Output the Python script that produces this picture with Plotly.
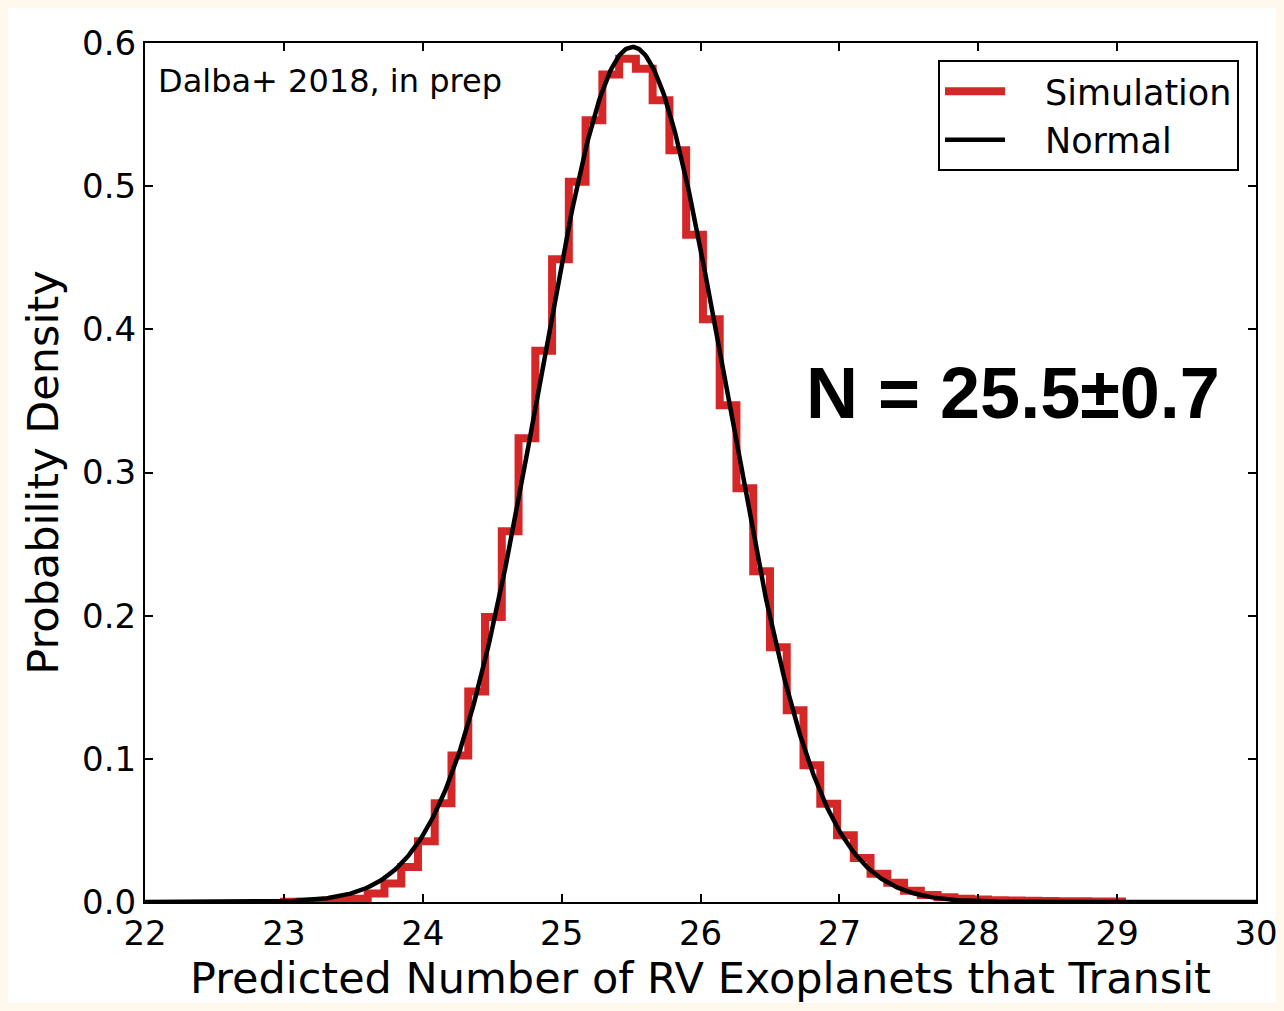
import numpy as np
import plotly.graph_objects as go

# ---- data ----
hist_min = 23.0
hist_max = 29.035
n_bins = 50
densities = [
    0.0002, 0.0004, 0.0007, 0.0012, 0.0022, 0.006, 0.013, 0.0244, 0.0424, 0.069,
    0.1023, 0.147, 0.199, 0.259, 0.324, 0.385, 0.449, 0.503, 0.546, 0.578,
    0.589, 0.582, 0.560, 0.525, 0.466, 0.407, 0.347, 0.289, 0.231, 0.178,
    0.134, 0.0955, 0.0687, 0.0466, 0.0307, 0.0198, 0.0135, 0.0079, 0.0049, 0.0033,
    0.0023, 0.0017, 0.0012, 0.0010, 0.0008, 0.0007, 0.0006, 0.0005, 0.0004, 0.0004,
]
normal_mu = 25.51
normal_sigma = 0.668
x_ticks = [22, 23, 24, 25, 26, 27, 28, 29, 30]
y_ticks = [0.0, 0.1, 0.2, 0.3, 0.4, 0.5, 0.6]
series_names = ["Simulation", "Normal"]

# ---- build marks ----
edges = np.linspace(hist_min, hist_max, n_bins + 1)
step_x = [edges[0]] + list(edges)
step_y = [0.0] + list(densities) + [0.0]

curve_x = np.linspace(x_ticks[0], x_ticks[-1], 801)
curve_y = np.exp(-0.5 * ((curve_x - normal_mu) / normal_sigma) ** 2) / (normal_sigma * np.sqrt(2 * np.pi))

RED = "#d62728"
FONT = "DejaVu Sans"
GAP = "\u2003"  # visual gap between legend line and label

fig = go.Figure()
fig.add_trace(go.Scatter(
    x=step_x, y=step_y, mode="lines", line=dict(color=RED, width=8, shape="hv"),
    name=GAP + series_names[0],
))
fig.add_trace(go.Scatter(
    x=curve_x, y=curve_y, mode="lines", line=dict(color="black", width=4.5),
    name=GAP + series_names[1],
))

W, H = 1284, 1011
ml, mr, mt, mb = 145, 28, 43, 109
pw, ph = W - ml - mr, H - mt - mb

# white figure area on cream frame
fig.add_shape(type="rect", xref="paper", yref="paper", layer="below",
              x0=-(ml - 8) / pw, x1=1 + (mr - 8) / pw,
              y0=-(mb - 8) / ph, y1=1 + (mt - 8) / ph,
              fillcolor="white", line=dict(width=0))

fig.add_annotation(text="Dalba+ 2018, in prep", xref="paper", yref="paper",
                   x=(156 - ml) / pw, y=(902 - 81) / ph, xanchor="left", yanchor="middle",
                   showarrow=False, font=dict(family=FONT, size=32, color="black"))
fig.add_annotation(text="<b>N = 25.5±0.7</b>", xref="paper", yref="paper",
                   x=(1222 - ml) / pw, y=(902 - 393) / ph, xanchor="right", yanchor="middle",
                   showarrow=False, font=dict(family="Liberation Sans", size=72, color="black"))

axis_common = dict(
    showline=True, linecolor="black", linewidth=2, mirror="allticks",
    ticks="inside", ticklen=8, tickwidth=1.5, tickcolor="black",
    showgrid=False, zeroline=False,
    tickfont=dict(family=FONT, size=34, color="black"),
)

fig.update_layout(
    width=W, height=H,
    margin=dict(l=ml, r=mr, t=mt, b=mb, autoexpand=False),
    paper_bgcolor="#fff8ec", plot_bgcolor="white",
    xaxis=dict(range=[x_ticks[0], x_ticks[-1]], tickvals=x_ticks,
               title=dict(text="Predicted Number of RV Exoplanets that Transit",
                          font=dict(family=FONT, size=43, color="black"), standoff=6),
               **axis_common),
    yaxis=dict(range=[y_ticks[0], y_ticks[-1]], tickvals=y_ticks, tickformat=".1f",
               title=dict(text="Probability Density",
                          font=dict(family=FONT, size=43, color="black"), standoff=10),
               **axis_common),
    legend=dict(x=(1239 - ml) / pw, y=(902 - 60) / ph, xanchor="right", yanchor="top",
                bordercolor="black", borderwidth=2, bgcolor="white", itemwidth=60,
                font=dict(family=FONT, size=35, color="black")),
    showlegend=True,
)

fig.write_html("out.html")
